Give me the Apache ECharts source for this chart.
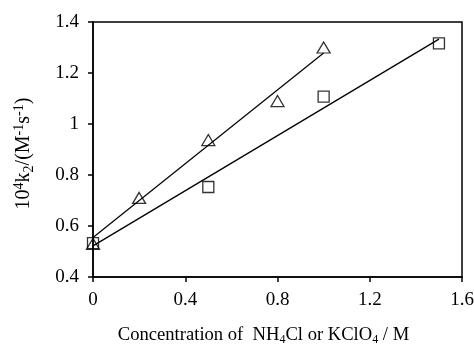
<!DOCTYPE html>
<html>
<head>
<meta charset="utf-8">
<script src="https://cdn.jsdelivr.net/npm/echarts@6/dist/echarts.min.js"></script>
<style>html,body{margin:0;padding:0;background:#fff}#c{width:474px;height:345px}</style>
</head>
<body>
<div id="c"></div>
<script>
var xTicks = [0, 0.4, 0.8, 1.2, 1.6];
var yTicks = [0.4, 0.6, 0.8, 1, 1.2, 1.4];
var triangleX = [0, 0.2, 0.5, 0.8, 1.0];
var triangleY = [0.53, 0.71, 0.937, 1.09, 1.30];
var squareX = [0, 0.5, 1.0, 1.5];
var squareY = [0.533, 0.753, 1.107, 1.316];
var triangleFitX = [0, 1.0];
var triangleFitY = [0.555, 1.278];
var squareFitX = [0, 1.5];
var squareFitY = [0.522, 1.333];

function pairs(xs, ys) { return xs.map(function (x, i) { return [x, ys[i]]; }); }

var font = '"Liberation Serif", "Times New Roman", serif';
function richSet(size, ratio, lh) {
  return {
    n: { fontFamily: font, fontSize: size, color: '#000', lineHeight: lh },
    sup: { fontFamily: font, fontSize: Math.round(size * ratio), color: '#000', lineHeight: Math.round(lh / 2), verticalAlign: 'top' },
    sub: { fontFamily: font, fontSize: Math.round(size * ratio), color: '#000', lineHeight: Math.round(lh * 0.55), verticalAlign: 'bottom' }
  };
}
var chart = echarts.init(document.getElementById('c'));
chart.setOption({
  animation: false,
  grid: { left: 93, right: 12, top: 22, bottom: 68, outerBoundsMode: 'none', containLabel: false,
    show: true, borderColor: '#000', borderWidth: 1.5, backgroundColor: 'transparent' },
  xAxis: {
    type: 'value', min: 0, max: 1.6, interval: 0.4,
    axisLine: { show: true, lineStyle: { color: '#000', width: 1.5 } },
    axisTick: { show: true, length: 5, lineStyle: { color: '#000', width: 1.5 } },
    splitLine: { show: false },
    axisLabel: { color: '#000', fontFamily: font, fontSize: 19, margin: 14,
      formatter: function (v) { return String(Math.round(v * 10) / 10); } },
    name: '{n|Concentration of  NH}{sub|4}{n|Cl or KClO}{sub|4}{n| / M}',
    nameLocation: 'middle', nameGap: 47,
    nameTextStyle: { color: '#000', fontFamily: font, fontSize: 18.6, padding: [0, 28, 0, 0], rich: richSet(18.6, 0.62, 22) }
  },
  yAxis: {
    type: 'value', min: 0.4, max: 1.4, interval: 0.2,
    axisLine: { show: true, lineStyle: { color: '#000', width: 1.5 } },
    axisTick: { show: true, length: 5, lineStyle: { color: '#000', width: 1.5 } },
    splitLine: { show: false },
    axisLabel: { color: '#000', fontFamily: font, fontSize: 19, margin: 14,
      formatter: function (v) { return String(Math.round(v * 10) / 10); } },
    name: '{n|10}{sup|4}{n|k}{sub|2}{n|/(M}{sup|-1}{n|s}{sup|-1}{n|)}',
    nameLocation: 'middle', nameGap: 57,
    nameTextStyle: { color: '#000', fontFamily: font, fontSize: 20, padding: [0, 8, 0, 0], rich: richSet(20, 0.68, 24) }
  },
  series: [
    { type: 'line', data: pairs(triangleFitX, triangleFitY), symbol: 'none', lineStyle: { color: '#000', width: 1.3 }, z: 1 },
    { type: 'line', data: pairs(squareFitX, squareFitY), symbol: 'none', lineStyle: { color: '#000', width: 1.3 }, z: 1 },
    { type: 'scatter', data: pairs(triangleX, triangleY), symbol: 'triangle', symbolSize: [13, 11],
      itemStyle: { color: 'rgba(255,255,255,0)', borderColor: '#000', borderWidth: 1.3 }, z: 3 },
    { type: 'scatter', data: pairs(squareX, squareY), symbol: 'rect', symbolSize: 11,
      itemStyle: { color: 'rgba(255,255,255,0)', borderColor: '#000', borderWidth: 1.3 }, z: 3 }
  ]
});
</script>
</body>
</html>
